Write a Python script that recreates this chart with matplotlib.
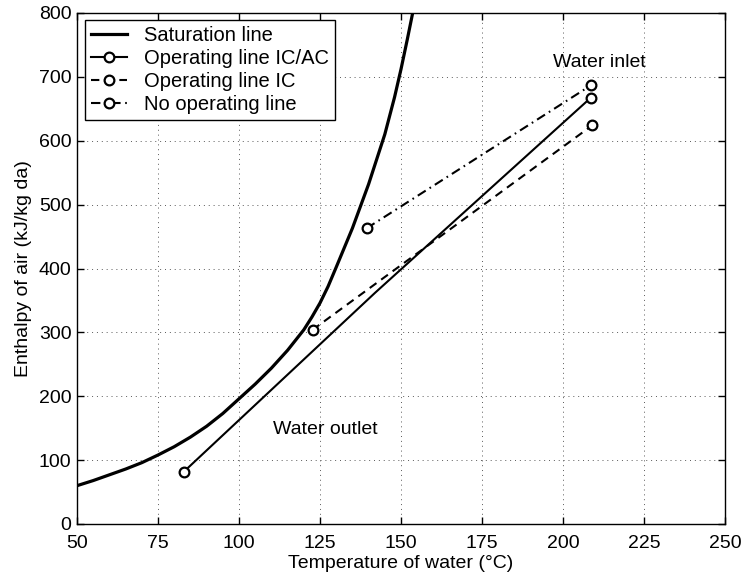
import matplotlib
matplotlib.use("Agg")
import matplotlib.pyplot as plt
from matplotlib.lines import Line2D

plt.rcParams['font.family'] = ['Liberation Sans', 'DejaVu Sans']
plt.rcParams['font.size'] = 14

# Saturation line
sat_temp = [50, 55, 60, 65, 70, 75, 80, 85, 90, 95, 100, 105, 110, 115, 120,
            122.5, 125, 127.5, 130, 135, 140, 145, 148, 150, 152, 153.6]
sat_enth = [60, 68, 77, 86, 96, 108, 121, 136, 153, 173, 196, 219, 244, 272, 304,
            324, 346, 372, 402, 463, 532, 610, 668, 712, 760, 800]

# Operating lines
icac_temp = [83, 142, 208.5]
icac_enth = [82, 362, 667]

ic_temp = [122.7, 209]
ic_enth = [304, 624]

noop_temp = [139.4, 208.7]
noop_enth = [463, 687]

fig = plt.figure(figsize=(7.44, 5.76), dpi=100)
ax = fig.add_axes([77 / 744, 1 - 524 / 576, 648 / 744, 511 / 576])

mk = dict(marker='o', ms=7, mfc='white', mec='black', mew=1.6)
dash = (0, (4, 2.8))
dashdot = (0, (4.5, 2.2, 0.8, 2.2))

ax.plot(sat_temp, sat_enth, color='black', lw=2.3, solid_joinstyle='round')
ax.plot(icac_temp, icac_enth, color='black', lw=1.5)
ax.plot([icac_temp[0], icac_temp[-1]], [icac_enth[0], icac_enth[-1]],
        ls='none', **mk)
ax.plot(ic_temp, ic_enth, color='black', lw=1.5, ls=dash, **mk)
ax.plot(noop_temp, noop_enth, color='black', lw=1.5, ls=dashdot, **mk)

ax.text(197, 722, 'Water inlet', ha='left', va='center')
ax.text(110.4, 148, 'Water outlet', ha='left', va='center')

ax.set_xlim(50, 250)
ax.set_ylim(0, 800)
ax.set_xticks(range(50, 251, 25))
ax.set_yticks(range(0, 801, 100))
ax.grid(True, color='0.35', ls=(0, (1, 4)), lw=0.7)
ax.tick_params(direction='in', top=True, right=True, length=5, width=1,
               labelsize=14)
ax.tick_params(axis='x', pad=8)
ax.tick_params(axis='y', pad=4)
for s in ax.spines.values():
    s.set_linewidth(1.0)

ax.set_xlabel('Temperature of water (°C)', labelpad=2)
ax.set_ylabel('Enthalpy of air (kJ/kg da)', labelpad=5)

handles = [
    Line2D([], [], color='black', lw=2.3),
    Line2D([], [], color='black', lw=1.5, **mk),
    Line2D([], [], color='black', lw=1.5, ls=dash, **mk),
    Line2D([], [], color='black', lw=1.5, ls=dashdot, **mk),
]
labels = ['Saturation line', 'Operating line IC/AC', 'Operating line IC',
          'No operating line']
leg = ax.legend(handles, labels, loc='upper left', bbox_to_anchor=(0.012, 0.986),
                borderaxespad=0, fancybox=False, edgecolor='black', framealpha=1,
                fontsize=14.5, handlelength=1.8, handletextpad=0.85,
                labelspacing=0.2, borderpad=0.3, numpoints=1)
leg.get_frame().set_linewidth(1.0)

fig.savefig('out.png', dpi=100)
